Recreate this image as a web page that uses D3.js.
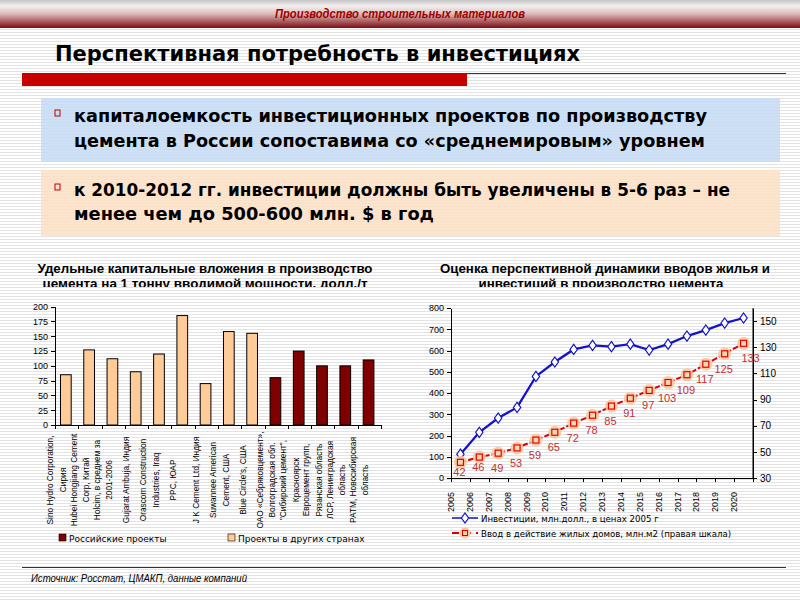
<!DOCTYPE html>
<html>
<head>
<meta charset="utf-8">
<script src="https://cdn.jsdelivr.net/npm/d3@7"></script>
<style>
  body { margin: 0; background: #fff; }
  svg { display: block; }
  .ax path, .ax line { stroke: #000; stroke-width: 1; shape-rendering: crispEdges; }
  .ax text { font-family: "Liberation Sans", Arial, sans-serif; font-size: 9px; fill: #000; }
</style>
</head>
<body>
<div id="chart"></div>
<script>
// left chart: capital cost per tonne
var barLabels = [
  ['Sino Hydro Corporation,', 'Сирия'],
  ['Hubei Hongjiang Cement', 'Corp, Китай'],
  ['Holcim, в среднем за', '2001-2006'],
  ['Gujarat Ambuja, Индия'],
  ['Orascom Construction', 'Industries, Iraq'],
  ['PPC, ЮАР'],
  ['J K Cement Ltd, Индия'],
  ['Suwannee American', 'Cement, США'],
  ['Blue Circle\'s, США'],
  ['ОАО «Себряковцемент»,', 'Волгоградская обл.'],
  ['"Сибирский цемент",', 'Красноярск'],
  ['Евроцемент групп,', 'Рязанская область'],
  ['ЛСР, Ленинградская', 'область'],
  ['РАТМ, Новосибирская', 'область']
];
var barValues = [85, 127, 112, 90, 120, 185, 70, 158, 155, 80, 125, 100, 100, 110];
var barGroups = ['other', 'other', 'other', 'other', 'other', 'other', 'other', 'other', 'other',
                 'ru', 'ru', 'ru', 'ru', 'ru'];
var barTicks = [0, 25, 50, 75, 100, 125, 150, 175, 200];

// right chart: investments and housing
var years = ['2005', '2006', '2007', '2008', '2009', '2010', '2011', '2012',
             '2013', '2014', '2015', '2016', '2017', '2018', '2019', '2020'];
var investments = [112, 215, 282, 332, 478, 546, 605, 624, 618, 630, 602, 630, 668, 696, 729, 753];
var housing = [42, 46, 49, 53, 59, 65, 72, 78, 85, 91, 97, 103, 109, 117, 125, 133];
var leftTicks = [0, 100, 200, 300, 400, 500, 600, 700, 800];
var rightTicks = [30, 50, 70, 90, 110, 130, 150];

var width = 800;
var height = 600;

var svg = d3.select('#chart')
    .append('svg')
    .attr('width', width)
    .attr('height', height);

var defs = svg.append('defs');

// lined paper background
var pat = defs.append('pattern')
    .attr('id', 'stripes')
    .attr('width', 8)
    .attr('height', 3)
    .attr('patternUnits', 'userSpaceOnUse');
pat.append('rect').attr('width', 8).attr('height', 3).attr('fill', '#fff');
pat.append('rect').attr('y', 2).attr('width', 8).attr('height', 1).attr('fill', '#e3e3e3');

var grad = defs.append('linearGradient')
    .attr('id', 'hdr')
    .attr('x1', 0).attr('y1', 0).attr('x2', 0).attr('y2', 1);
grad.append('stop').attr('offset', '0%').attr('stop-color', '#c4c4c4');
grad.append('stop').attr('offset', '22%').attr('stop-color', '#f4f0f0');
grad.append('stop').attr('offset', '50%').attr('stop-color', '#dcb8b8');
grad.append('stop').attr('offset', '100%').attr('stop-color', '#7e0c12');

defs.append('clipPath').attr('id', 'titleclip')
  .append('rect').attr('x', 0).attr('y', 255).attr('width', 800).attr('height', 32);

svg.append('rect').attr('width', width).attr('height', height).attr('fill', 'url(#stripes)');

// header
svg.append('rect').attr('x', 0).attr('y', 0).attr('width', width).attr('height', 28).attr('fill', 'url(#hdr)');
svg.append('text')
    .attr('x', 400).attr('y', 18)
    .attr('text-anchor', 'middle')
    .attr('textLength', 250).attr('lengthAdjust', 'spacingAndGlyphs')
    .style('font-family', 'Liberation Sans, Arial, sans-serif')
    .style('font-size', '12px').style('font-weight', 'bold').style('font-style', 'italic')
    .style('fill', '#a00000')
    .text('Производство строительных материалов');

svg.append('text')
    .attr('x', 55).attr('y', 61)
    .attr('textLength', 525).attr('lengthAdjust', 'spacingAndGlyphs')
    .style('font-family', 'DejaVu Sans Condensed, DejaVu Sans, sans-serif')
    .style('font-size', '21px').style('font-weight', 'bold')
    .style('fill', '#000')
    .text('Перспективная потребность в инвестициях');

svg.append('rect').attr('x', 22).attr('y', 73).attr('width', 445).attr('height', 13).attr('fill', '#c80000');
svg.append('line').attr('x1', 467).attr('x2', 786).attr('y1', 73.5).attr('y2', 73.5)
    .attr('stroke', '#8a1020').attr('stroke-width', 1);

// bullet boxes
var boxes = [
  {y: 98, h: 64, fill: '#c4dbf5', lines: ['капиталоемкость инвестиционных проектов по производству',
                                          'цемента в России сопоставима со «среднемировым» уровнем'],
   base: [122, 147], lens: [633, 631]},
  {y: 170, h: 66, fill: '#fde0c4', lines: ['к 2010-2012 гг. инвестиции должны быть увеличены в 5-6 раз – не',
                                           'менее чем до 500-600 млн. $ в год'],
   base: [196, 220], lens: [656, 360]}
];
boxes.forEach(function(b) {
  svg.append('rect').attr('x', 41).attr('y', b.y).attr('width', 739).attr('height', b.h)
      .attr('fill', b.fill).attr('opacity', 0.85);
  svg.append('rect').attr('x', 55).attr('y', b.base[0] - 12).attr('width', 5).attr('height', 6)
      .attr('fill', 'none').attr('stroke', '#c00000').attr('stroke-width', 1);
  b.lines.forEach(function(t, i) {
    svg.append('text')
        .attr('x', 74).attr('y', b.base[i])
        .attr('textLength', b.lens[i]).attr('lengthAdjust', 'spacingAndGlyphs')
        .style('font-family', 'DejaVu Sans Condensed, DejaVu Sans, sans-serif')
        .style('font-size', '17px').style('font-weight', 'bold')
        .style('fill', '#000')
        .text(t);
  });
});

// ---------- left chart ----------
var titleStyle = function(sel) {
  sel.style('font-family', 'Liberation Sans, Arial, sans-serif')
     .style('font-size', '12.5px').style('font-weight', 'bold').style('fill', '#000');
};
var lt = svg.append('g').attr('clip-path', 'url(#titleclip)');
lt.append('text').attr('x', 205).attr('y', 273).attr('text-anchor', 'middle')
    .attr('textLength', 335).attr('lengthAdjust', 'spacingAndGlyphs')
    .call(titleStyle).text('Удельные капитальные вложения в производство');
lt.append('text').attr('x', 205).attr('y', 288).attr('text-anchor', 'middle')
    .attr('textLength', 325).attr('lengthAdjust', 'spacingAndGlyphs')
    .call(titleStyle).text('цемента на 1 тонну вводимой мощности, долл./т');

var xb = d3.scaleBand().domain(d3.range(barValues.length)).range([55, 381]).padding(0);
var yb = d3.scaleLinear().domain([0, 200]).range([425, 306.7]);
var barColor = d3.scaleOrdinal().domain(['ru', 'other']).range(['#800000', '#ffcc99']);

svg.append('g').attr('class', 'ax')
    .attr('transform', 'translate(55,0)')
    .call(d3.axisLeft(yb).tickValues(barTicks).tickSize(4).tickSizeOuter(0).tickPadding(3));

var bw = xb.bandwidth() * 0.46;
svg.selectAll('.bar')
    .data(barValues)
    .enter()
    .append('rect')
    .attr('class', 'bar')
    .attr('x', function(d, i) { return xb(i) + xb.bandwidth() / 2 - bw / 2 - 0.8; })
    .attr('y', function(d) { return yb(d); })
    .attr('width', bw)
    .attr('height', function(d) { return yb(0) - yb(d); })
    .attr('fill', function(d, i) { return barColor(barGroups[i]); })
    .attr('stroke', '#000')
    .attr('stroke-width', 1);

// category axis, ticks on band boundaries
var xbAx = svg.append('g').attr('class', 'ax');
xbAx.append('line').attr('x1', 55).attr('x2', 381).attr('y1', 425.5).attr('y2', 425.5);
xbAx.selectAll('.tk')
    .data(d3.range(barValues.length + 1))
    .enter()
    .append('line')
    .attr('x1', function(d) { return Math.round(55 + d * xb.bandwidth()) + 0.5; })
    .attr('x2', function(d) { return Math.round(55 + d * xb.bandwidth()) + 0.5; })
    .attr('y1', 425).attr('y2', 429);

var lab = svg.selectAll('.blab')
    .data(barLabels)
    .enter()
    .append('g')
    .attr('class', 'blab')
    .attr('transform', function(d, i) {
      return 'translate(' + (xb(i) + 1.5) + ',480) rotate(-90)';
    });
lab.each(function(lines) {
  var g = d3.select(this);
  lines.forEach(function(t, j) {
    g.append('text')
        .attr('x', 0)
        .attr('y', (j - (lines.length - 1) / 2) * 12.5)
        .attr('text-anchor', 'middle')
        .attr('dominant-baseline', 'central')
        .style('font-family', 'Liberation Sans, Arial, sans-serif')
        .style('font-size', '8.3px')
        .style('fill', '#000')
        .text(t);
  });
});

// left legend
var legendData = [
  {key: 'ru', label: 'Российские проекты', x: 59},
  {key: 'other', label: 'Проекты в других странах', x: 228}
];
var leg = svg.selectAll('.legend')
    .data(legendData)
    .enter()
    .append('g')
    .attr('class', 'legend')
    .attr('transform', function(d) { return 'translate(' + d.x + ',534)'; });
leg.append('rect')
    .attr('width', 7).attr('height', 7)
    .attr('fill', function(d) { return barColor(d.key); })
    .attr('stroke', '#000').attr('stroke-width', 0.6);
leg.append('text')
    .attr('x', 10).attr('y', 7.5)
    .style('font-family', 'DejaVu Sans, sans-serif')
    .style('font-size', '9px')
    .style('fill', '#000')
    .text(function(d) { return d.label; });

// ---------- right chart ----------
var rt = svg.append('g').attr('clip-path', 'url(#titleclip)');
rt.append('text').attr('x', 605).attr('y', 273).attr('text-anchor', 'middle')
    .attr('textLength', 330).attr('lengthAdjust', 'spacingAndGlyphs')
    .call(titleStyle).text('Оценка перспективной динамики вводов жилья и');
rt.append('text').attr('x', 601).attr('y', 288).attr('text-anchor', 'middle')
    .attr('textLength', 245).attr('lengthAdjust', 'spacingAndGlyphs')
    .call(titleStyle).text('инвестиций в производство цемента');

var x = d3.scaleBand().domain(years).range([451, 753]);
var yL = d3.scaleLinear().domain([0, 800]).range([478, 308]);
var yR = d3.scaleLinear().domain([30, 160]).range([478, 308]);

svg.append('g').attr('class', 'ax')
    .attr('transform', 'translate(451,0)')
    .call(d3.axisLeft(yL).tickValues(leftTicks).tickSize(4).tickSizeOuter(0).tickPadding(3));
svg.append('g').attr('class', 'ax')
    .attr('transform', 'translate(753,0)')
    .call(d3.axisRight(yR).tickValues(rightTicks).tickSize(4).tickSizeOuter(0).tickPadding(3))
    .selectAll('text').style('font-size', '10px');
svg.append('line').attr('class', 'ax')
    .attr('x1', 753).attr('x2', 753).attr('y1', 308).attr('y2', 478)
    .attr('stroke', '#000');

var xAx = svg.append('g').attr('class', 'ax');
xAx.append('line').attr('x1', 451).attr('x2', 753).attr('y1', 478.5).attr('y2', 478.5);
xAx.selectAll('.tk')
    .data(years.concat(['end']))
    .enter()
    .append('line')
    .attr('x1', function(d) { return Math.round(d === 'end' ? 753 : x(d)) + 0.5; })
    .attr('x2', function(d) { return Math.round(d === 'end' ? 753 : x(d)) + 0.5; })
    .attr('y1', 478).attr('y2', 482);
xAx.selectAll('.yl')
    .data(years)
    .enter()
    .append('text')
    .attr('transform', function(d) { return 'translate(' + x(d) + ',492) rotate(-90)'; })
    .attr('text-anchor', 'end')
    .attr('dominant-baseline', 'central')
    .text(function(d) { return d; });

var cx = function(d, i) { return x(years[i]) + x.bandwidth() / 2; };

// investments line
var invLine = d3.line()
    .x(function(d, i) { return cx(d, i); })
    .y(function(d) { return yL(d); });
svg.append('path')
    .datum(investments)
    .attr('d', invLine)
    .attr('fill', 'none')
    .attr('stroke', '#1414c8')
    .attr('stroke-width', 2.3);

var diamond = d3.symbol().type(d3.symbolDiamond).size(30);
svg.selectAll('.inv')
    .data(investments)
    .enter()
    .append('path')
    .attr('class', 'inv')
    .attr('d', diamond)
    .attr('transform', function(d, i) { return 'translate(' + cx(d, i) + ',' + yL(d) + ') scale(1.25,1)'; })
    .attr('fill', '#fff')
    .attr('stroke', '#1414c8')
    .attr('stroke-width', 1);

// housing line (right scale)
var houseLine = d3.line()
    .x(function(d, i) { return cx(d, i); })
    .y(function(d) { return yR(d); });
svg.append('path')
    .datum(housing)
    .attr('d', houseLine)
    .attr('fill', 'none')
    .attr('stroke', '#e00000')
    .attr('stroke-width', 2)
    .attr('stroke-dasharray', '6,2');

var hp = svg.selectAll('.hp')
    .data(housing)
    .enter()
    .append('g')
    .attr('class', 'hp')
    .attr('transform', function(d, i) { return 'translate(' + cx(d, i) + ',' + yR(d) + ')'; });
hp.append('circle').attr('r', 6.5).attr('fill', '#fbc79f').attr('opacity', 0.9);
hp.append('rect').attr('x', -3).attr('y', -3).attr('width', 6).attr('height', 6)
    .attr('fill', '#ffd9b3').attr('stroke', '#e00000').attr('stroke-width', 1.2);

svg.selectAll('.hl')
    .data(housing)
    .enter()
    .append('text')
    .attr('class', 'hl')
    .attr('x', function(d, i) { return cx(d, i) - 1 + (i === housing.length - 1 ? 8 : 0); })
    .attr('y', function(d, i) { return yR(d) + (i < 2 ? 14 : 19); })
    .attr('text-anchor', 'middle')
    .style('font-family', 'Liberation Sans, Arial, sans-serif')
    .style('font-size', '11px')
    .style('fill', '#c03030')
    .text(function(d) { return d; });

// right legend
var rleg = [
  {label: 'Инвестиции, млн.долл., в ценах 2005 г', y: 518, kind: 'inv'},
  {label: 'Ввод в действие жилых домов, млн.м2 (правая шкала)', y: 533, kind: 'house'}
];
rleg.forEach(function(d) {
  var g = svg.append('g').attr('transform', 'translate(0,' + d.y + ')');
  if (d.kind === 'inv') {
    g.append('line').attr('x1', 452).attr('x2', 478).attr('stroke', '#1414c8').attr('stroke-width', 1.5);
    g.append('path').attr('d', diamond).attr('transform', 'translate(465,0) scale(1.25,1)')
        .attr('fill', '#fff').attr('stroke', '#1414c8');
  } else {
    g.append('line').attr('x1', 452).attr('x2', 478).attr('stroke', '#e00000').attr('stroke-width', 2)
        .attr('stroke-dasharray', '7,5');
    g.append('circle').attr('cx', 465).attr('r', 5.5).attr('fill', '#fbc79f');
    g.append('rect').attr('x', 462.5).attr('y', -2.5).attr('width', 5).attr('height', 5)
        .attr('fill', '#ffd9b3').attr('stroke', '#e00000');
  }
  g.append('text').attr('x', 481).attr('y', 3.5)
      .style('font-family', 'DejaVu Sans, sans-serif')
      .style('font-size', '8.6px')
      .style('fill', '#000')
      .text(d.label);
});

// footer
svg.append('line').attr('x1', 22).attr('x2', 786).attr('y1', 567.5).attr('y2', 567.5)
    .attr('stroke', '#7a1020').attr('stroke-width', 1);
svg.append('text')
    .attr('x', 31).attr('y', 582)
    .attr('textLength', 216).attr('lengthAdjust', 'spacingAndGlyphs')
    .style('font-family', 'Liberation Sans, Arial, sans-serif')
    .style('font-size', '10.5px').style('font-style', 'italic')
    .style('fill', '#000')
    .text('Источник: Росстат, ЦМАКП, данные компаний');
</script>
</body>
</html>
